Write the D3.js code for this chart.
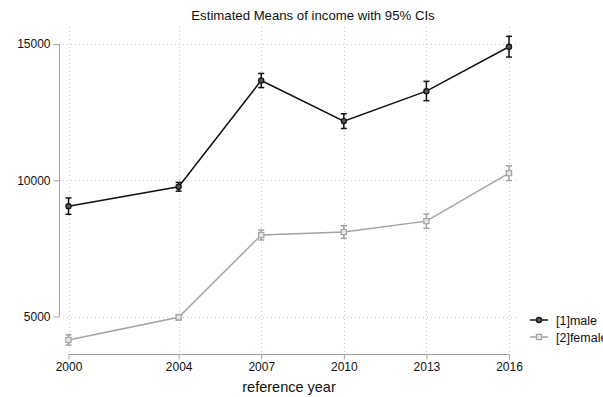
<!DOCTYPE html>
<html>
<head>
<meta charset="utf-8">
<script src="https://cdn.jsdelivr.net/npm/d3@7"></script>
<style>
  html, body { margin: 0; padding: 0; background: #fff; }
  svg { display: block; font-family: "Liberation Sans", Arial, Helvetica, sans-serif; }
</style>
</head>
<body>
<svg id="chart" width="603" height="397"></svg>
<script>
// Survey years on the x axis
const years = [2000, 2004, 2007, 2010, 2013, 2016];

// Estimated mean income by sex, with 95% confidence bounds
const maleMean  = [9050, 9760, 13660, 12170, 13270, 14900];
const maleLow   = [8750, 9600, 13400, 11900, 12920, 14520];
const maleHigh  = [9350, 9920, 13920, 12440, 13630, 15280];

const femaleMean = [4140, 4970, 7990, 8100, 8500, 10260];
const femaleLow  = [3950, 4870, 7810, 7870, 8240, 9990];
const femaleHigh = [4330, 5070, 8170, 8330, 8760, 10530];

const yTicks = [5000, 10000, 15000];
const seriesLabels = ["[1]male", "[2]female"];

const svg = d3.select("#chart");

const x = d3.scaleLinear().domain([2000, 2016]).range([68.5, 509]);
const y = d3.scaleLinear().domain([5000, 15000]).range([316.5, 44]);

const gridColor = "#c8c8c8";
const axisColor = "#a0a0a0";

// Gridlines
const grid = svg.append("g").attr("stroke", gridColor).attr("stroke-width", 1)
  .attr("stroke-dasharray", "1,3");
grid.selectAll("line.h").data(yTicks).join("line")
  .attr("x1", 63).attr("x2", 517)
  .attr("y1", d => Math.round(y(d)) + 0.5).attr("y2", d => Math.round(y(d)) + 0.5);
grid.selectAll("line.v").data(years).join("line")
  .attr("x1", d => Math.round(x(d)) + 0.5).attr("x2", d => Math.round(x(d)) + 0.5)
  .attr("y1", 27).attr("y2", 352);

// Y axis
const yAxis = d3.axisLeft(y).tickValues(yTicks).tickFormat(d3.format("d")).tickSize(6).tickPadding(3);
const gy = svg.append("g").attr("transform", "translate(59.5,0)").call(yAxis);
gy.select(".domain").attr("stroke", axisColor).attr("d", `M-0,${y(15000)}V${y(5000)}`);
gy.selectAll(".tick line").attr("stroke", axisColor);
gy.selectAll(".tick text").attr("fill", "#111").style("font-size", "12px");

// X axis
const xAxis = d3.axisBottom(x).tickValues(years).tickFormat(d3.format("d")).tickSize(5).tickPadding(3);
const gx = svg.append("g").attr("transform", "translate(0,354.5)").call(xAxis);
gx.select(".domain").attr("stroke", axisColor).attr("d", `M${x(2000)},0H${x(2016)}`);
gx.selectAll(".tick line").attr("stroke", axisColor);
gx.selectAll(".tick text").attr("fill", "#111").style("font-size", "12px");

// Titles
svg.append("text").attr("x", 313).attr("y", 20).attr("text-anchor", "middle")
  .style("font-size", "13.2px").attr("fill", "#111")
  .text("Estimated Means of income with 95% CIs");
svg.append("text").attr("x", 289).attr("y", 392).attr("text-anchor", "middle")
  .style("font-size", "14.5px").attr("fill", "#111")
  .text("reference year");

// Series drawing
function drawSeries(mean, low, high, color, shape) {
  const g = svg.append("g");
  const pts = years.map((yr, i) => ({ yr, m: mean[i], lo: low[i], hi: high[i] }));
  g.append("path").datum(pts)
    .attr("fill", "none").attr("stroke", color).attr("stroke-width", 1.5)
    .attr("d", d3.line().x(d => x(d.yr)).y(d => y(d.m)));
  const eb = g.selectAll("g.eb").data(pts).join("g").attr("stroke", color).attr("stroke-width", 1.5);
  eb.append("line").attr("x1", d => x(d.yr)).attr("x2", d => x(d.yr))
    .attr("y1", d => y(d.lo)).attr("y2", d => y(d.hi));
  eb.append("line").attr("x1", d => x(d.yr) - 3).attr("x2", d => x(d.yr) + 3)
    .attr("y1", d => y(d.lo)).attr("y2", d => y(d.lo));
  eb.append("line").attr("x1", d => x(d.yr) - 3).attr("x2", d => x(d.yr) + 3)
    .attr("y1", d => y(d.hi)).attr("y2", d => y(d.hi));
  drawMarkers(g, pts.map(d => [x(d.yr), y(d.m)]), color, shape);
}

function drawMarkers(g, coords, color, shape) {
  if (shape === "circle") {
    g.selectAll("circle.mk").data(coords).join("circle")
      .attr("cx", d => d[0]).attr("cy", d => d[1]).attr("r", 2.6)
      .attr("fill", "#555").attr("stroke", color).attr("stroke-width", 1.2);
  } else {
    g.selectAll("rect.mk").data(coords).join("rect")
      .attr("x", d => d[0] - 2.6).attr("y", d => d[1] - 2.6)
      .attr("width", 5.2).attr("height", 5.2)
      .attr("fill", "#e6e6e6").attr("stroke", color).attr("stroke-width", 1.2);
  }
}

const femaleColor = "#a3a3a3";
const maleColor = "#111111";
drawSeries(femaleMean, femaleLow, femaleHigh, femaleColor, "square");
drawSeries(maleMean, maleLow, maleHigh, maleColor, "circle");

// Legend
const legend = svg.append("g");
const legendItems = [
  { label: seriesLabels[0], color: maleColor, shape: "circle", yPos: 320 },
  { label: seriesLabels[1], color: femaleColor, shape: "square", yPos: 337 }
];
legendItems.forEach(it => {
  const g = legend.append("g");
  g.append("line").attr("x1", 530).attr("x2", 548).attr("y1", it.yPos).attr("y2", it.yPos)
    .attr("stroke", it.color).attr("stroke-width", 1.5);
  drawMarkers(g, [[539, it.yPos]], it.color, it.shape);
  g.append("text").attr("x", 556).attr("y", it.yPos + 4.5)
    .style("font-size", "12.5px").attr("fill", "#111").text(it.label);
});
</script>
</body>
</html>
